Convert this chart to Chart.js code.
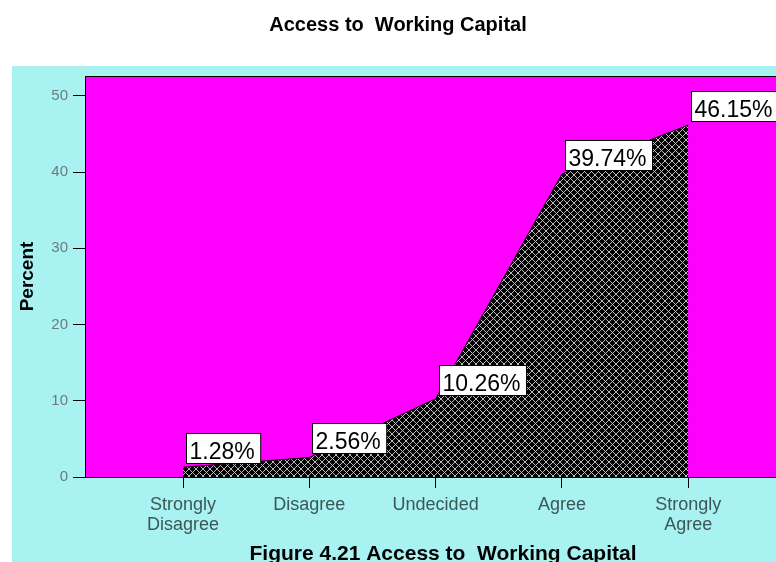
<!DOCTYPE html>
<html>
<head>
<meta charset="utf-8">
<script src="https://cdn.jsdelivr.net/npm/chart.js@4.4.1/dist/chart.umd.min.js"></script>
<style>
    html, body { margin: 0; padding: 0; background: #ffffff; }
    #chart { display: block; }
</style>
</head>
<body>
<canvas id="chart" width="776" height="562"></canvas>
<script>
// Chart data
const categories = [['Strongly', 'Disagree'], 'Disagree', 'Undecided', 'Agree', ['Strongly', 'Agree']];
const percentValues = [1.28, 2.56, 10.26, 39.74, 46.15];
const percentLabels = ['1.28%', '2.56%', '10.26%', '39.74%', '46.15%'];
const yTicks = [0, 10, 20, 30, 40, 50];

const chartTitle = 'Access to  Working Capital';
const figureCaption = 'Figure 4.21 Access to  Working Capital';

const FONT = '"Liberation Sans", Arial, sans-serif';

// Crosshatch fill like the original print
function makeHatch() {
    const c = document.createElement('canvas');
    c.width = 7;
    c.height = 7;
    const g = c.getContext('2d');
    g.fillStyle = '#000000';
    g.fillRect(0, 0, 7, 7);
    g.strokeStyle = '#cfcfcf';
    g.lineWidth = 0.9;
    g.beginPath();
    g.moveTo(0, 0); g.lineTo(7, 7);
    g.moveTo(7, 0); g.lineTo(0, 7);
    g.stroke();
    return g.createPattern(c, 'repeat');
}

// Page background, plot frame, title and caption
const backdrop = {
    id: 'backdrop',
    beforeDraw(chart) {
        const ctx = chart.ctx;
        const area = chart.chartArea;
        ctx.save();
        ctx.fillStyle = '#ffffff';
        ctx.fillRect(0, 0, chart.width, chart.height);
        ctx.fillStyle = '#a8f2f2';
        ctx.fillRect(12, 66, chart.width - 12, chart.height - 66);
        ctx.fillStyle = '#ff00ff';
        ctx.fillRect(area.left, area.top, area.right - area.left, area.bottom - area.top);
        ctx.restore();
    },
    afterDraw(chart) {
        const ctx = chart.ctx;
        const area = chart.chartArea;
        ctx.save();
        ctx.strokeStyle = '#000000';
        ctx.lineWidth = 1;
        ctx.strokeRect(area.left + 0.5, area.top + 0.5, area.right - area.left + 5, area.bottom - area.top);
        ctx.fillStyle = '#000000';
        ctx.textAlign = 'center';
        ctx.textBaseline = 'alphabetic';
        ctx.font = 'bold 20px ' + FONT;
        ctx.fillText(chartTitle, 398, 31);
        ctx.font = 'bold 21px ' + FONT;
        ctx.fillText(figureCaption, 443, 560);
        ctx.restore();
    }
};

// Boxed value labels sitting up-right of each point
const valueBoxes = {
    id: 'valueBoxes',
    afterDatasetsDraw(chart) {
        const ctx = chart.ctx;
        const meta = chart.getDatasetMeta(0);
        ctx.save();
        ctx.font = '23px ' + FONT;
        ctx.textBaseline = 'alphabetic';
        meta.data.forEach((pt, i) => {
            const text = percentLabels[i];
            const w = ctx.measureText(text).width + 9;
            const h = 30;
            const left = Math.round(pt.x) + 3.5;
            const bottom = Math.round(pt.y) - 3.5;
            ctx.fillStyle = '#ffffff';
            ctx.fillRect(left, bottom - h, w, h);
            ctx.strokeStyle = '#000000';
            ctx.lineWidth = 1;
            ctx.strokeRect(left, bottom - h, w, h);
            ctx.fillStyle = '#000000';
            ctx.fillText(text, left + 3, bottom - 5);
        });
        ctx.restore();
    }
};

const ctx = document.getElementById('chart');
new Chart(ctx, {
    type: 'line',
    data: {
        datasets: [{
            data: percentValues.map((v, i) => ({ x: i, y: v })),
            borderColor: '#000000',
            borderWidth: 1,
            backgroundColor: makeHatch(),
            fill: 'origin',
            tension: 0,
            pointRadius: 0
        }]
    },
    options: {
        responsive: false,
        animation: false,
        layout: { padding: { top: 76, left: 0, right: 0, bottom: 0 } },
        plugins: {
            legend: { display: false },
            tooltip: { enabled: false },
            title: { display: false }
        },
        scales: {
            x: {
                type: 'linear',
                min: -0.776,
                max: 4.695,
                afterBuildTicks: (scale) => {
                    scale.ticks = categories.map((c, i) => ({ value: i }));
                },
                afterFit: (scale) => { scale.height = 85; },
                ticks: {
                    color: '#3d5656',
                    font: { family: FONT, size: 18, lineHeight: 1.12 },
                    padding: 7,
                    maxRotation: 0,
                    autoSkip: false,
                    callback: (v) => categories[v]
                },
                grid: {
                    drawOnChartArea: false,
                    drawTicks: true,
                    tickLength: 11,
                    color: '#000000'
                },
                border: { display: true, color: '#000000', width: 1 }
            },
            y: {
                min: 0,
                max: 52.6,
                afterBuildTicks: (scale) => {
                    scale.ticks = yTicks.map(v => ({ value: v }));
                },
                afterFit: (scale) => { scale.width = 85; },
                ticks: {
                    color: '#6f7a7a',
                    font: { family: FONT, size: 15 },
                    padding: 5
                },
                grid: {
                    drawOnChartArea: false,
                    drawTicks: true,
                    tickLength: 12,
                    color: '#000000'
                },
                border: { display: true, color: '#000000', width: 1 },
                title: {
                    display: true,
                    text: 'Percent',
                    color: '#000000',
                    font: { family: FONT, size: 19, weight: 'bold' },
                    padding: { top: 16, bottom: 0 }
                }
            }
        }
    },
    plugins: [backdrop, valueBoxes]
});
</script>
</body>
</html>
